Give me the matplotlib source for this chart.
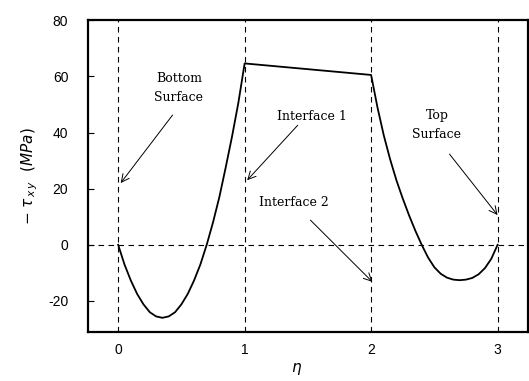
import matplotlib
matplotlib.use("Agg")
import matplotlib.pyplot as plt

# shear stress through the thickness
eta = [0.0, 0.05, 0.1, 0.15, 0.2, 0.25, 0.3, 0.35, 0.4, 0.45, 0.5, 0.55, 0.6, 0.65,
       0.7, 0.75, 0.8, 0.85, 0.9, 0.95, 1.0,
       2.0, 2.05, 2.1, 2.15, 2.2, 2.25, 2.3, 2.35, 2.4, 2.45, 2.5, 2.55, 2.6, 2.65,
       2.7, 2.75, 2.8, 2.85, 2.9, 2.95, 3.0]
tau = [0.0, -7.0, -12.7, -17.5, -21.2, -24.0, -25.5, -26.0, -25.5, -24.0, -21.2, -17.5, -12.7, -7.0,
       0.0, 8.0, 17.0, 27.5, 38.5, 50.5, 64.6,
       60.5, 49.0, 39.0, 30.5, 23.0, 16.5, 10.5, 5.0, 0.0, -4.5, -8.0, -10.3, -11.7, -12.4,
       -12.6, -12.4, -11.8, -10.5, -8.3, -5.0, 0.0]

interfaces = [0, 1, 2, 3]
xticks = [0, 1, 2, 3]
yticks = [-20, 0, 20, 40, 60, 80]

# labels and where they sit / point to
note_text = ["Bottom\nSurface", "Interface 1", "Interface 2", "Top\nSurface"]
note_pos = [(0.48, 56.0), (1.53, 45.8), (1.39, 14.9), (2.52, 42.8)]
arrow_from = [(0.43, 46.2), (1.42, 42.6), (1.52, 8.8), (2.62, 32.3)]
arrow_to = [(0.02, 22.0), (1.02, 23.0), (2.01, -13.2), (3.0, 10.6)]

fig = plt.figure(figsize=(5.29, 3.81), dpi=100)
ax = fig.add_axes([0.166, 0.129, 0.832, 0.818])

for x in interfaces:
    ax.axvline(x, color="black", lw=0.8, ls=(0, (5, 4)))
ax.axhline(0, color="black", lw=0.8, ls=(0, (5, 4)))

ax.plot(eta, tau, color="black", lw=1.3)

for label, pos in zip(note_text, note_pos):
    ax.text(pos[0], pos[1], label, ha="center", va="center",
            fontsize=9, family="DejaVu Serif", linespacing=1.6)
for start, end in zip(arrow_from, arrow_to):
    ax.annotate("", xy=end, xytext=start,
                arrowprops=dict(arrowstyle="->", lw=0.7, color="black",
                                shrinkA=0, shrinkB=0, mutation_scale=14))

ax.set_xlim(-0.24, 3.24)
ax.set_ylim(-31, 80)
ax.set_xticks(xticks)
ax.set_yticks(yticks)
ax.set_yticklabels([str(v) if v >= 0 else "-" + str(-v) for v in yticks])
ax.tick_params(axis="y", direction="in", length=4, pad=14, labelsize=10)
ax.tick_params(axis="x", direction="in", length=0, pad=8, labelsize=10)
for lab in ax.get_xticklabels() + ax.get_yticklabels():
    lab.set_family("Liberation Sans")
for s in ax.spines.values():
    s.set_linewidth(1.6)

ax.set_xlabel(r"$\eta$", fontsize=11)
ax.xaxis.set_label_coords(0.475, -0.095)
ax.set_ylabel(r"$-\ \tau_{\,x\,y}\ \ (MPa)$", fontsize=11, labelpad=6)

fig.savefig("out.png", dpi=100)
